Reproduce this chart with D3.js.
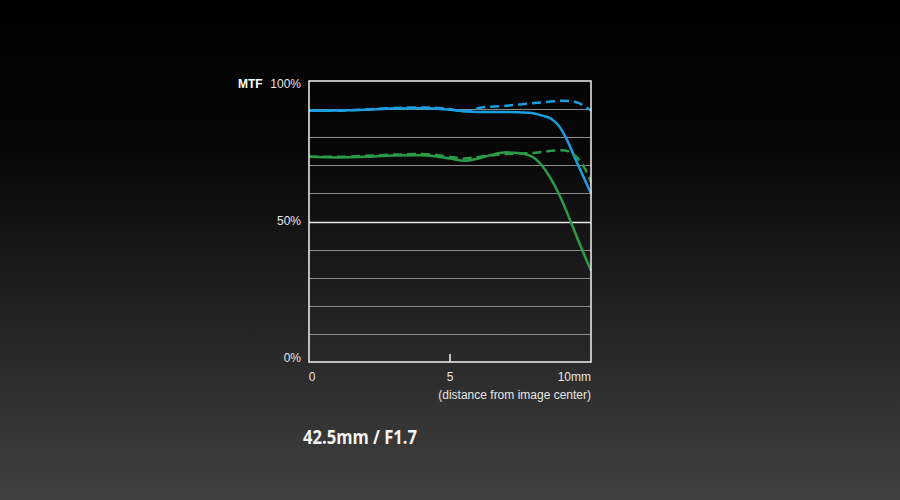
<!DOCTYPE html>
<html>
<head>
<meta charset="utf-8">
<script src="https://cdn.jsdelivr.net/npm/d3@7"></script>
<style>
  html, body { margin: 0; padding: 0; background: #000; }
  svg { display: block; }
</style>
</head>
<body>
<svg id="chart" width="900" height="500"></svg>
<script>
const width = 900;
const height = 500;
const fontFamily = `"Liberation Sans", Arial, Helvetica, sans-serif`;

// distance from image center (mm)
const blueSolidX = [0, 1, 2, 3, 4, 5, 5.5, 6, 7, 7.8, 8.3, 8.6, 8.9, 9.15, 9.5, 9.75, 10];
const blueSolidY = [89.4, 89.5, 89.8, 90.2, 90.3, 89.8, 89.2, 89, 89, 88.7, 87.6, 86.5, 83.5, 79, 71, 65.5, 60];

const blueDashX = [0, 1, 2, 3, 4, 5, 5.5, 6, 7, 8, 8.5, 9, 9.5, 9.8, 10];
const blueDashY = [89.6, 89.4, 89.9, 90.4, 90.6, 90, 89.2, 90.4, 91.2, 92.2, 92.6, 93, 92.4, 90.8, 89.5];

const greenSolidX = [0, 1, 2, 3, 4, 5, 5.5, 6, 6.5, 7, 7.5, 8, 8.5, 8.9, 9.3, 9.6, 10];
const greenSolidY = [73, 72.8, 73, 73.5, 73.6, 72.4, 71.6, 72.4, 73.8, 74.6, 74.3, 72.5, 66.5, 59, 49.5, 42, 32.5];

const greenDashX = [0, 1, 2, 3, 4, 5, 5.5, 6, 7, 8, 8.5, 9, 9.5, 9.8, 10];
const greenDashY = [73, 73, 73.4, 73.8, 74, 73, 72.4, 73, 74, 74.4, 75.1, 75.4, 72.8, 68.5, 64];

const yTicks = [0, 50, 100];
const yGrid = d3.range(10, 100, 10);
const xTicks = [0, 5, 10];
const xTickLabels = ["0", "5", "10mm"];
const title = "42.5mm / F1.7";

const series = [
  { x: blueSolidX, y: blueSolidY, color: "#1b9fe2", dash: null },
  { x: blueDashX, y: blueDashY, color: "#1b9fe2", dash: "9,5" },
  { x: greenSolidX, y: greenSolidY, color: "#2c9b48", dash: null },
  { x: greenDashX, y: greenDashY, color: "#2c9b48", dash: "9,5" },
];

const svg = d3.select("#chart");

const defs = svg.append("defs");
const bg = defs.append("linearGradient")
  .attr("id", "bg")
  .attr("x1", 0).attr("y1", 0).attr("x2", 0).attr("y2", 1);
bg.append("stop").attr("offset", "0%").attr("stop-color", "#000");
bg.append("stop").attr("offset", "30%").attr("stop-color", "#070707");
bg.append("stop").attr("offset", "100%").attr("stop-color", "#414141");

svg.append("rect")
  .attr("width", width)
  .attr("height", height)
  .attr("fill", "url(#bg)");

const plot = { left: 309, right: 591, top: 81, bottom: 362 };

const x = d3.scaleLinear().domain([0, 10]).range([plot.left, plot.right]);
const y = d3.scaleLinear().domain([0, 100]).range([plot.bottom, plot.top]);

// grid lines
svg.append("g")
  .attr("id", "grid")
  .selectAll("line")
  .data(yGrid)
  .enter()
  .append("line")
  .attr("x1", plot.left)
  .attr("x2", plot.right)
  .attr("y1", (d) => Math.round(y(d)) + 0.5)
  .attr("y2", (d) => Math.round(y(d)) + 0.5)
  .attr("stroke", (d) => (d === 50 ? "#e8e8e8" : "#8a8a8a"))
  .attr("stroke-width", (d) => (d === 50 ? 1.5 : 1));

// lines
const line = d3.line()
  .x((d) => x(d[0]))
  .y((d) => y(d[1]))
  .curve(d3.curveMonotoneX);

svg.append("g")
  .attr("id", "curves")
  .selectAll("path")
  .data(series)
  .enter()
  .append("path")
  .attr("d", (s) => line(s.x.map((v, i) => [v, s.y[i]])))
  .attr("fill", "none")
  .attr("stroke", (s) => s.color)
  .attr("stroke-width", 2.5)
  .attr("stroke-dasharray", (s) => s.dash);

// frame
svg.append("rect")
  .attr("x", plot.left)
  .attr("y", plot.top)
  .attr("width", plot.right - plot.left)
  .attr("height", plot.bottom - plot.top)
  .attr("fill", "none")
  .attr("stroke", "#f2f2f2")
  .attr("stroke-width", 1.5);

// 5mm tick
svg.append("line")
  .attr("x1", x(5))
  .attr("x2", x(5))
  .attr("y1", plot.bottom)
  .attr("y2", plot.bottom - 8)
  .attr("stroke", "#f2f2f2")
  .attr("stroke-width", 1.5);

const labels = svg.append("g")
  .attr("font-family", fontFamily)
  .attr("fill", "#e6e6e6")
  .attr("font-size", 12);

// labels sit lower at the top, level with the line at 0%
labels.selectAll(".y-label")
  .data(yTicks)
  .enter()
  .append("text")
  .attr("class", "y-label")
  .attr("x", 301)
  .attr("y", (d) => y(d) + d / 100 * 7)
  .attr("text-anchor", "end")
  .text((d) => `${d}%`);

labels.append("text")
  .attr("x", 238)
  .attr("y", y(100) + 7)
  .attr("font-weight", "bold")
  .attr("fill", "#fff")
  .text("MTF");

labels.selectAll(".x-label")
  .data(xTicks)
  .enter()
  .append("text")
  .attr("class", "x-label")
  .attr("x", (d, i) => (i === 0 ? x(d) + 3 : x(d)))
  .attr("y", 381)
  .attr("text-anchor", (d, i) => (i === 2 ? "end" : "middle"))
  .text((d, i) => xTickLabels[i]);

labels.append("text")
  .attr("x", plot.right)
  .attr("y", 399)
  .attr("text-anchor", "end")
  .text("(distance from image center)");

svg.append("text")
  .attr("x", 303)
  .attr("y", 444)
  .attr("font-family", `"Open Sans", "Noto Sans", sans-serif`)
  .attr("font-weight", "bold")
  .attr("font-size", 19)
  .attr("textLength", 114)
  .attr("lengthAdjust", "spacingAndGlyphs")
  .attr("fill", "#f4f4f4")
  .text(title);
</script>
</body>
</html>
